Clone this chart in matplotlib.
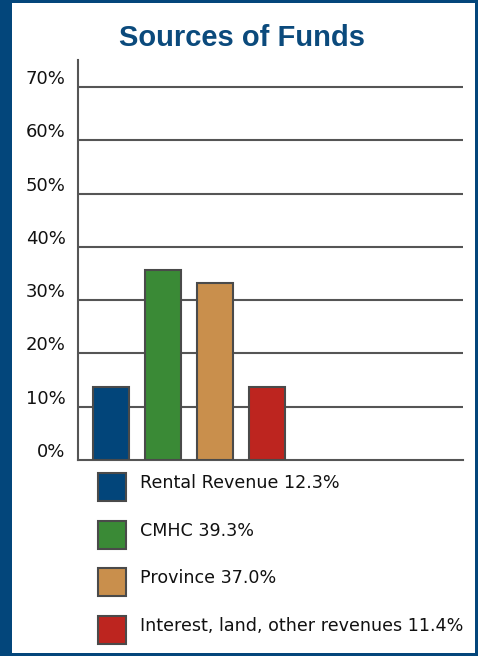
import matplotlib
matplotlib.use("Agg")
import matplotlib.pyplot as plt
import matplotlib.transforms as mtransforms
from matplotlib.patches import Rectangle

categories = ["Rental Revenue", "CMHC", "Province", "Interest, land, other revenues"]
shares = ["12.3%", "39.3%", "37.0%", "11.4%"]
bar_heights = [13.7, 35.6, 33.2, 13.7]
colors = ["#02457a", "#3a8a36", "#c98f4c", "#bd251f"]
yticks = [0, 10, 20, 30, 40, 50, 60, 70]

plt.rcParams['font.family'] = ['DejaVu Sans']

W, H = 478, 656
fig = plt.figure(figsize=(W / 100, H / 100), dpi=100)
fig.patch.set_facecolor("#03467b")

# white panel inside the blue frame
fig.patches.append(Rectangle((12 / W, 3 / H), (475 - 12) / W, (653 - 3) / H,
                             transform=fig.transFigure, facecolor="white",
                             edgecolor="none", zorder=-5))

fig.text(242 / W, 1 - 38 / H, "Sources of Funds", ha="center", va="center",
         fontsize=21, fontweight="bold", color="#0b4a7c",
         family=["Liberation Sans", "DejaVu Sans"])

ax = fig.add_axes([78 / W, 1 - 460 / H, (463 - 78) / W, (460 - 60) / H])
ax.set_zorder(2)
ax.set_facecolor("none")
x = range(len(bar_heights))
ax.bar(x, bar_heights, width=0.69, color=colors, edgecolor="#4a4a4a",
       linewidth=1.5, zorder=3)
ax.set_xlim(-0.635, 6.77)
ax.set_ylim(0, 75.1)
ax.set_yticks(yticks)
ax.set_yticklabels([f"{t}%" for t in yticks], fontsize=13, color="#111111")
ax.tick_params(axis="y", length=0, pad=9)
ax.set_xticks([])
for t in yticks[1:]:
    ax.axhline(t, color="#555555", linewidth=1.5, zorder=1)
for s in ["top", "right"]:
    ax.spines[s].set_visible(False)
for s in ["left", "bottom"]:
    ax.spines[s].set_color("#555555")
    ax.spines[s].set_linewidth(1.5)

offset = mtransforms.ScaledTranslation(0, 10 / 100, fig.dpi_scale_trans)
for lab in ax.get_yticklabels():
    lab.set_transform(lab.get_transform() + offset)

# legend
row_y = [487, 535, 582, 630]
for cy, c, name, sh in zip(row_y, colors, categories, shares):
    fig.patches.append(Rectangle((98 / W, 1 - (cy + 14) / H), 28 / W, 28 / H,
                                 transform=fig.transFigure, facecolor=c,
                                 edgecolor="#4a4a4a", linewidth=1.5, zorder=2))
    fig.text(140 / W, 1 - (cy - 4) / H, f"{name} {sh}", ha="left", va="center",
             fontsize=12.6, color="#111111")

fig.savefig("out.png", dpi=100)
